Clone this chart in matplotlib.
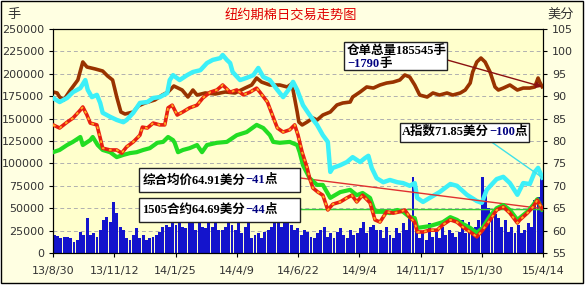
import matplotlib
matplotlib.use("Agg")
import matplotlib.pyplot as plt
from matplotlib.patches import Rectangle
import numpy as np


# -----
# DATA
# -----
# x positions are days counted from 2013-08-30
x_tick_days = [0, 74, 148, 222, 296, 370, 444, 518, 592]
x_tick_labels = ["13/8/30", "13/11/12", "14/1/25", "14/4/9", "14/6/22",
                 "14/9/4", "14/11/17", "15/1/30", "15/4/14"]

# certified stocks (lots, left axis)
stock_day = [0, 5, 8, 13, 21, 30, 36, 41, 51, 60, 66, 72, 77, 82, 87, 97, 103, 111,
             123, 132, 139, 146, 156, 163, 169, 174, 184, 196, 208, 220, 232, 240,
             246, 252, 262, 274, 283, 288, 290, 295, 297, 301, 307, 314, 319, 326,
             335, 343, 350, 359, 362, 371, 379, 387, 395, 403, 411, 419, 425, 431,
             437, 443, 452, 459, 467, 476, 483, 492, 498, 504, 507, 512, 517, 522,
             528, 534, 538, 544, 552, 561, 568, 576, 582, 586, 588, 591]
stock_val = [179700, 178600, 174100, 170800, 181900, 193100, 213200, 207600, 205400,
             203100, 197500, 193100, 174100, 157400, 155100, 157400, 164100, 167400,
             170800, 176300, 179700, 186400, 181900, 174100, 181900, 176300, 178600,
             177500, 179700, 178600, 184100, 187500, 195300, 190800, 187500, 187500,
             185300, 188600, 181900, 157400, 146200, 142900, 146200, 150700, 148400,
             154000, 157400, 165200, 167400, 168500, 174100, 179700, 185300, 184100,
             187500, 189700, 190800, 193100, 198700, 196400, 187500, 176300, 174100,
             178600, 176300, 178600, 176300, 178600, 181900, 189700, 202000, 213200,
             217600, 213200, 202000, 185300, 181900, 184100, 187500, 181900, 184100,
             184100, 185300, 195300, 190800, 185545]

# Cotlook A index (cents, right axis)
a_day = [0, 8, 17, 24, 33, 39, 42, 47, 53, 57, 60, 69, 77, 85, 89, 97, 105, 114, 121,
         129, 138, 141, 145, 153, 162, 169, 178, 186, 193, 202, 205, 210, 214, 217,
         226, 234, 242, 248, 254, 262, 271, 278, 286, 290, 295, 302, 310, 319, 326,
         332, 335, 338, 347, 355, 362, 371, 377, 381, 385, 391, 399, 407, 416, 423,
         431, 437, 440, 447, 455, 467, 480, 488, 500, 512, 518, 524, 536, 544, 552,
         561, 568, 576, 582, 586, 591]
a_val = [89.6, 88.7, 89.6, 90.9, 91.8, 93.6, 91.4, 89.8, 90.3, 88.5, 86.3, 85.4, 84.7,
         84.2, 84.7, 86.3, 88.5, 88.7, 89.6, 89.8, 90.7, 93.6, 94.7, 93.6, 94.7, 95.4,
         95.8, 97.4, 98.1, 98.5, 99.2, 98.1, 97.4, 95.4, 93.6, 94.1, 94.7, 96.3, 94.3,
         93.6, 91.4, 89.8, 91.8, 93.2, 91.4, 88.0, 85.8, 83.6, 81.3, 79.8, 73.1, 74.0,
         74.6, 75.3, 76.4, 75.3, 76.2, 76.7, 74.0, 71.7, 70.8, 71.3, 70.8, 70.6, 70.0,
         70.6, 67.3, 66.4, 67.3, 68.6, 70.4, 70.0, 68.0, 66.6, 66.2, 69.1, 71.5, 72.0,
         70.6, 68.0, 70.6, 70.4, 73.1, 74.0, 71.85]

# composite average price (cents, right axis)
avg_day = [0, 8, 17, 24, 33, 36, 41, 45, 53, 57, 60, 69, 77, 83, 89, 97, 105, 108, 114,
           121, 129, 135, 139, 144, 150, 157, 165, 174, 181, 190, 198, 205, 214, 222,
           230, 238, 246, 250, 259, 265, 271, 278, 286, 292, 296, 301, 307, 310, 314,
           320, 326, 332, 338, 347, 355, 361, 367, 374, 383, 389, 395, 403, 411, 419,
           425, 431, 437, 440, 447, 455, 464, 471, 480, 488, 495, 504, 512, 519, 528,
           536, 544, 552, 561, 564, 573, 580, 585, 591]
avg_val = [83.6, 82.9, 84.2, 85.1, 86.9, 87.6, 85.8, 84.0, 83.6, 80.7, 78.4, 78.0, 78.0,
           77.3, 78.7, 79.8, 81.3, 83.1, 82.9, 84.0, 83.6, 83.6, 87.4, 88.0, 85.8, 86.5,
           87.4, 88.0, 89.6, 90.9, 91.4, 92.5, 90.9, 91.4, 90.3, 90.9, 91.8, 90.9, 88.7,
           85.8, 82.9, 82.0, 82.5, 83.6, 81.3, 77.5, 74.0, 71.7, 69.5, 68.6, 67.9, 64.6,
           65.9, 66.4, 67.3, 67.9, 66.4, 67.9, 66.2, 62.4, 61.9, 64.2, 63.9, 64.2, 64.6,
           63.0, 61.9, 59.7, 59.7, 60.1, 60.1, 61.3, 62.4, 61.9, 60.8, 59.7, 58.6, 60.1,
           62.4, 64.6, 65.3, 63.9, 61.7, 62.4, 63.9, 65.3, 66.8, 64.91]

# 1505 contract (cents, right axis)
may_day = [0, 8, 17, 24, 33, 36, 45, 48, 54, 60, 69, 77, 85, 93, 101, 109, 117, 126,
           133, 139, 145, 147, 151, 157, 165, 174, 180, 186, 198, 210, 222, 234, 246,
           254, 262, 266, 274, 286, 295, 298, 302, 310, 319, 326, 335, 347, 359, 367,
           374, 383, 389, 399, 407, 416, 423, 431, 437, 440, 455, 471, 480, 488, 495,
           504, 512, 519, 528, 536, 544, 552, 561, 573, 580, 585, 591]
may_val = [77.5, 78.0, 79.1, 79.8, 80.9, 79.1, 80.2, 80.9, 79.1, 78.0, 77.5, 76.4, 76.9,
           77.3, 77.5, 78.0, 78.4, 79.6, 79.8, 80.9, 80.2, 79.6, 77.5, 78.0, 78.4, 79.1,
           77.5, 79.1, 79.6, 79.8, 81.3, 82.0, 83.6, 82.9, 81.3, 79.8, 79.6, 79.8, 79.1,
           77.5, 74.6, 71.7, 70.2, 70.2, 67.3, 68.6, 69.1, 67.9, 68.4, 67.3, 64.2, 64.2,
           63.9, 64.6, 64.2, 63.0, 62.8, 60.6, 61.0, 61.9, 63.0, 62.4, 61.5, 60.6, 59.5,
           60.6, 63.3, 65.0, 65.7, 64.6, 62.4, 64.2, 65.7, 67.0, 64.69]

# daily volume (lots, left axis), read left to right
volume = [20100, 19000, 16400, 18200, 17500, 16400, 12600, 14500, 23800, 20100,
          38700, 20100, 21900, 18200, 25700, 36800, 40500, 35000, 57300, 44300,
          29400, 25700, 16400, 14500, 20100, 27500, 16400, 20100, 14500, 16400,
          18200, 20100, 23800, 29400, 31200, 29400, 33100, 31200, 35000, 29400,
          27500, 33100, 35000, 25700, 33100, 29400, 27500, 35000, 29400, 33100,
          25700, 25700, 29400, 35000, 31200, 25700, 33100, 21900, 29400, 35000,
          16400, 20100, 21900, 16400, 23800, 25700, 29400, 36800, 35000, 29400,
          33100, 36800, 31200, 25700, 27500, 20100, 25700, 23800, 18200, 16400,
          21900, 25700, 29400, 18200, 21900, 16400, 23800, 27500, 20100, 16400,
          25700, 20100, 21900, 27500, 35000, 21900, 29400, 31200, 25700,
          25700, 16400, 29400, 20100, 16400, 27500, 21900, 33100, 25700, 40500,
          85000, 27500, 16400, 21900, 14500, 33100, 18200, 23800, 16400, 29400,
          20100, 25700, 21900, 18200, 23800, 36800, 21900, 35000, 25700, 29400,
          36800, 85000, 70000, 50000, 46000, 44000, 38700, 29400, 36800, 23800,
          29400, 21900, 31200, 21900, 25700, 33100, 29400, 59000, 63000, 85000]


# --------
# FIGURE
# --------
label_font = ["Liberation Serif", "Noto Sans CJK SC"]

fig = plt.figure(figsize=(5.87, 2.88), dpi=100)
fig.patch.set_facecolor("white")
fig.patches.append(Rectangle((0.001, 0.017), 0.992, 0.981, transform=fig.transFigure,
                             facecolor="#FFFFE2", edgecolor="black", linewidth=1, zorder=-10))

ax = fig.add_axes([0.0903, 0.1215, 0.8348, 0.7778])
ax.set_facecolor("#FFFFCC")

vol_x = np.linspace(1.5, 590, len(volume))
ax.bar(vol_x, volume, width=(vol_x[1] - vol_x[0]) * 0.88, color="#1414CC", linewidth=0, zorder=2)
ax.plot(stock_day, stock_val, color="#993300", linewidth=2.6, zorder=3)

ax.set_xlim(0, 592)
ax.set_ylim(0, 250000)
ax.set_yticks(range(0, 250001, 25000))
ax.set_xticks(x_tick_days)
ax.set_xticklabels(x_tick_labels)
ax.yaxis.grid(True, color="#B0B0B0", linestyle=(0, (4, 3)), linewidth=0.7, zorder=0)
ax.set_axisbelow(True)
ax.tick_params(axis="both", labelsize=8, labelcolor="#333333", length=3, width=0.8)
ax.tick_params(axis="x", pad=6)

ax2 = ax.twinx()
ax2.set_ylim(55, 105)
ax2.set_yticks(range(55, 106, 5))
ax2.tick_params(axis="y", labelsize=8, labelcolor="#333333", length=3, width=0.8)

ax2.plot(a_day, a_val, color="#3CF0F8", linewidth=3.2, zorder=3)
ax2.plot(may_day, may_val, color="#22DD22", linewidth=3.0, zorder=4)
ax2.plot(avg_day, avg_val, color="#E81E10", linewidth=2.6, zorder=5)
ax2.plot(avg_day, avg_val, color="#FFB020", linewidth=1.3, linestyle=(0, (1.5, 2.5)), zorder=6)

for spine in list(ax.spines.values()) + list(ax2.spines.values()):
    spine.set_color("black")
    spine.set_linewidth(0.8)

# connector lines from the label boxes to the last values
ax.annotate("", xy=(stock_day[-1], stock_val[-1]), xycoords="data",
            xytext=(0.804, 0.862), textcoords="axes fraction",
            arrowprops=dict(arrowstyle="-|>", color="#8B1010", linewidth=1, mutation_scale=9,
                            shrinkA=0, shrinkB=0), zorder=6)
ax2.annotate("", xy=(a_day[-1], a_val[-1]), xytext=(0.892, 0.5), textcoords="axes fraction",
             arrowprops=dict(arrowstyle="-", color="#40E0E8", linewidth=1, shrinkA=0, shrinkB=0))
ax2.annotate("", xy=(avg_day[-1], avg_val[-1]), xytext=(0.504, 0.335), textcoords="axes fraction",
             arrowprops=dict(arrowstyle="-", color="#E03030", linewidth=1, shrinkA=0, shrinkB=0))
ax2.annotate("", xy=(592, may_val[-1]), xytext=(0.504, 0.194), textcoords="axes fraction",
             arrowprops=dict(arrowstyle="-", color="#33CC33", linewidth=1, shrinkA=0, shrinkB=0))


def label_box(x0, y0, x1, y1):
    ax2.add_patch(Rectangle((x0, y0), x1 - x0, y1 - y0, transform=ax2.transAxes,
                            facecolor="white", edgecolor="#222222", linewidth=1, zorder=8))


def colored_text(x, y, parts):
    t = ax2.text(x, y, parts[0][0], color=parts[0][1], transform=ax2.transAxes, fontsize=9,
                 fontweight="bold", family=label_font, va="center", ha="left", zorder=9)
    for s, c in parts[1:]:
        t = ax2.annotate(s, xycoords=t, xy=(1, 0), va="bottom", color=c, fontsize=9,
                         fontweight="bold", family=label_font, zorder=9)


label_box(0.594, 0.817, 0.804, 0.942)
colored_text(0.600, 0.903, [("仓单总量185545手", "black")])
colored_text(0.600, 0.845, [("−1790", "#000080"), ("手", "black")])

label_box(0.708, 0.496, 0.971, 0.580)
colored_text(0.712, 0.540, [("A指数71.85美分", "black"), ("−100", "#000080"), ("点", "black")])

label_box(0.176, 0.272, 0.504, 0.379)
colored_text(0.182, 0.325, [("综合均价64.91美分", "black"), ("−41", "#000080"), ("点", "black")])

label_box(0.176, 0.138, 0.504, 0.246)
colored_text(0.182, 0.191, [("1505合约64.69美分", "black"), ("−44", "#000080"), ("点", "black")])

fig.text(0.496, 0.948, "纽约期棉日交易走势图", color="#E00000", fontsize=9.5,
         family=["Noto Sans CJK SC"], ha="center", va="center")
fig.text(0.024, 0.948, "手", color="#333333", fontsize=9.5, family=["Noto Sans CJK SC"],
         ha="center", va="center")
fig.text(0.956, 0.948, "美分", color="#333333", fontsize=9.5, family=["Noto Sans CJK SC"],
         ha="center", va="center")

fig.savefig("out.png", dpi=100, facecolor=fig.get_facecolor())
